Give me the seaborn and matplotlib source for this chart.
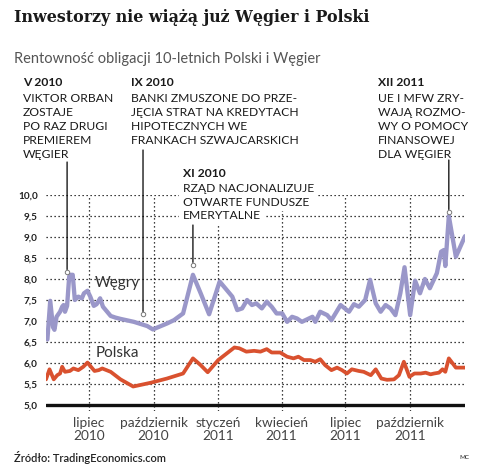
import pandas as pd
import matplotlib
matplotlib.use('Agg')
import matplotlib.pyplot as plt
import matplotlib.dates as mdates
import seaborn as sns

# Hungary 10y yields
hu_dates = ['2010-05-03', '2010-05-07', '2010-05-11', '2010-05-13', '2010-05-16', '2010-05-21',
            '2010-05-24', '2010-05-26', '2010-05-28', '2010-05-31', '2010-06-03', '2010-06-05',
            '2010-06-08', '2010-06-11', '2010-06-16', '2010-06-21', '2010-06-24', '2010-06-29',
            '2010-07-03', '2010-07-08', '2010-07-12', '2010-07-17', '2010-07-21', '2010-07-27',
            '2010-08-01', '2010-08-08', '2010-08-15', '2010-09-03', '2010-09-22', '2010-09-30',
            '2010-10-20', '2010-10-30', '2010-11-12', '2010-11-26', '2010-12-07', '2010-12-19',
            '2011-01-03', '2011-01-21', '2011-01-28', '2011-02-04', '2011-02-11', '2011-02-18',
            '2011-02-24', '2011-03-04', '2011-03-11', '2011-03-18', '2011-03-25', '2011-04-02',
            '2011-04-09', '2011-04-16', '2011-04-23', '2011-04-30', '2011-05-15', '2011-05-19',
            '2011-05-26', '2011-06-05', '2011-06-11', '2011-06-24', '2011-07-06', '2011-07-13',
            '2011-07-20', '2011-07-29', '2011-08-05', '2011-08-13', '2011-08-20', '2011-08-27',
            '2011-09-03', '2011-09-10', '2011-09-17', '2011-09-23', '2011-10-01', '2011-10-08',
            '2011-10-15', '2011-10-22', '2011-10-29', '2011-11-08', '2011-11-14', '2011-11-18',
            '2011-11-20', '2011-11-25', '2011-12-05', '2011-12-18']
hu_values = [6.56, 7.48, 6.85, 6.79, 7.10, 7.22, 7.34, 7.38, 7.22, 7.36, 8.06, 8.10,
             8.10, 7.50, 7.58, 7.54, 7.66, 7.72, 7.58, 7.36, 7.40, 7.54, 7.34, 7.22,
             7.12, 7.08, 7.05, 6.98, 6.88, 6.80, 6.94, 7.02, 7.18, 8.10, 7.66, 7.16,
             7.94, 7.58, 7.26, 7.30, 7.50, 7.38, 7.42, 7.30, 7.46, 7.34, 7.18, 7.18,
             6.98, 7.10, 7.06, 6.98, 7.10, 6.98, 7.22, 7.14, 7.02, 7.38, 7.22, 7.40,
             7.34, 7.50, 7.98, 7.42, 7.22, 7.38, 7.30, 7.14, 7.66, 8.28, 7.14, 7.96,
             7.66, 8.00, 7.78, 8.14, 8.65, 8.69, 8.31, 9.50, 8.53, 9.02]

# Poland 10y yields
pl_dates = ['2010-05-01', '2010-05-06', '2010-05-12', '2010-05-17', '2010-05-21', '2010-05-24',
            '2010-05-28', '2010-06-04', '2010-06-09', '2010-06-16', '2010-06-23', '2010-06-29',
            '2010-07-09', '2010-07-15', '2010-07-20', '2010-07-26', '2010-08-01', '2010-08-15',
            '2010-09-02', '2010-09-27', '2010-10-20', '2010-11-12', '2010-11-26', '2010-12-07',
            '2010-12-17', '2011-01-01', '2011-01-24', '2011-01-31', '2011-02-10', '2011-02-21',
            '2011-03-02', '2011-03-11', '2011-03-18', '2011-03-30', '2011-04-09', '2011-04-18',
            '2011-04-25', '2011-05-03', '2011-05-12', '2011-05-19', '2011-05-26', '2011-06-02',
            '2011-06-11', '2011-06-19', '2011-06-26', '2011-07-03', '2011-07-10', '2011-07-20',
            '2011-07-27', '2011-08-06', '2011-08-13', '2011-08-21', '2011-08-29', '2011-09-08',
            '2011-09-15', '2011-09-22', '2011-09-30', '2011-10-07', '2011-10-16', '2011-10-23',
            '2011-10-30', '2011-11-04', '2011-11-11', '2011-11-16', '2011-11-20', '2011-11-25',
            '2011-12-05', '2011-12-18']
pl_values = [5.61, 5.85, 5.61, 5.71, 5.75, 5.91, 5.79, 5.81, 5.87, 5.83, 5.91, 6.01,
             5.81, 5.83, 5.87, 5.83, 5.79, 5.61, 5.44, 5.53, 5.63, 5.75, 6.11, 5.95,
             5.78, 6.07, 6.37, 6.35, 6.27, 6.29, 6.27, 6.33, 6.25, 6.25, 6.15, 6.11,
             6.15, 6.07, 6.07, 6.03, 6.09, 5.95, 5.83, 5.89, 5.83, 5.75, 5.85, 5.81,
             5.79, 5.71, 5.85, 5.63, 5.60, 5.61, 5.71, 6.03, 5.67, 5.75, 5.75, 5.77,
             5.73, 5.75, 5.77, 5.85, 5.79, 6.11, 5.89, 5.89]

tick_dates = ['2010-07-01', '2010-10-01', '2011-01-01', '2011-04-01', '2011-07-01', '2011-10-01']
tick_labels = ['lipiec\n2010', 'październik\n2010', 'styczeń\n2011', 'kwiecień\n2011',
               'lipiec\n2011', 'październik\n2011']
y_ticks = [5.0, 5.5, 6.0, 6.5, 7.0, 7.5, 8.0, 8.5, 9.0, 9.5, 10.0]

# events: date, yield at marker, top of leader line (px from top)
event_dates = ['2010-05-31', '2010-09-16', '2010-11-26', '2011-11-25']
event_values = [8.16, 7.16, 8.33, 9.59]
event_tops = [162, 150, 225, 160]

W, H = 482, 469
HU_COLOR = '#9a97c9'
PL_COLOR = '#d9512f'

sns.set_style('white')
plt.rcParams['font.family'] = ['Lato', 'DejaVu Sans']

fig = plt.figure(figsize=(W / 100, H / 100), dpi=100)
# axes: y 4.85..10.0 -> px 411..195, x px 46..465
ax = fig.add_axes([46 / W, (H - 411.3) / H, 419 / W, (411.3 - 195) / H])

hu = pd.DataFrame({'date': pd.to_datetime(hu_dates), 'value': hu_values})
pl = pd.DataFrame({'date': pd.to_datetime(pl_dates), 'value': pl_values})

sns.lineplot(data=hu, x='date', y='value', color=HU_COLOR, lw=3.1, ax=ax, zorder=3)
sns.lineplot(data=pl, x='date', y='value', color=PL_COLOR, lw=2.7, ax=ax, zorder=3)

ax.set_xlim(min(pl['date'].min(), hu['date'].min()), max(pl['date'].max(), hu['date'].max()))
ax.set_ylim(4.85, 10.0)
ax.set_xlabel('')
ax.set_ylabel('')

# dotted grid
for v in y_ticks[1:]:
    ax.axhline(v, color='black', lw=0.9, ls=(0, (1, 2.2)), zorder=1)
for d in tick_dates:
    ax.axvline(pd.Timestamp(d), color='black', lw=0.9, ls=(0, (1, 2.2)), zorder=1)
ax.axhline(5.0, color='#111111', lw=2.4, zorder=4)

for s in ax.spines.values():
    s.set_visible(False)
ax.set_yticks(y_ticks)
ax.set_yticklabels([f'{v:.1f}'.replace('.', ',') for v in y_ticks], fontsize=7.2,
                   color='#222222', fontweight='bold')
ax.set_xticks(pd.to_datetime(tick_dates))
ax.set_xticklabels(tick_labels, fontsize=9.8, color='#444444', linespacing=1.1)
ax.tick_params(axis='both', length=0, pad=6)
ax.tick_params(axis='x', pad=4)

# series labels
ax.text(pd.Timestamp('2010-07-10'), 7.90, 'Węgry', fontsize=11, color='#333333', va='center')
ax.text(pd.Timestamp('2010-07-10'), 6.24, 'Polska', fontsize=11, color='#333333', va='center')

# leader lines with small circles
for d, v, top in zip(event_dates, event_values, event_tops):
    xd = mdates.date2num(pd.Timestamp(d))
    ax.annotate('', xy=(xd, v), xytext=(xd, 1 - top / H),
                textcoords=('data', 'figure fraction'), annotation_clip=False,
                arrowprops=dict(arrowstyle='-', lw=0.9, color='black', shrinkA=0, shrinkB=2))
    ax.plot([xd], [v], marker='o', ms=3.2, mfc='white', mec='#777777', mew=0.7,
            zorder=5, clip_on=False)


def ftext(x, y, s, **kw):
    fig.text(x / W, 1 - y / H, s, va='center', **kw)


ftext(14, 17, 'Inwestorzy nie wiążą już Węgier i Polski', fontsize=11.4, fontweight='bold',
      family=['DejaVu Serif'], color='#1a1a1a')
ftext(14, 59, 'Rentowność obligacji 10-letnich Polski i Węgier', fontsize=10.5, color='#555555')

ann_kw = dict(fontsize=8.7, color='#1a1a1a')
rows = [98, 112, 126, 140, 154]
ftext(23, 83, 'V 2010', fontweight='bold', **ann_kw)
for y, s in zip(rows, ['VIKTOR ORBAN', 'ZOSTAJE', 'PO RAZ DRUGI', 'PREMIEREM', 'WĘGIER']):
    ftext(23, y, s, **ann_kw)
ftext(131, 83, 'IX 2010', fontweight='bold', **ann_kw)
for y, s in zip(rows, ['BANKI ZMUSZONE DO PRZE-', 'JĘCIA STRAT NA KREDYTACH',
                       'HIPOTECZNYCH WE', 'FRANKACH SZWAJCARSKICH']):
    ftext(131, y, s, **ann_kw)
ftext(378, 83, 'XII 2011', fontweight='bold', **ann_kw)
for y, s in zip(rows, ['UE I MFW ZRY-', 'WAJĄ ROZMO-', 'WY O POMOCY', 'FINANSOWEJ',
                       'DLA WĘGIER']):
    ftext(378, y, s, **ann_kw)

# XI 2010 block sits over the grid: white backing first, then the text
xi_rows = [173, 188, 202, 215]
xi_lines = ['XI 2010', 'RZĄD NACJONALIZUJE', 'OTWARTE FUNDUSZE', 'EMERYTALNE']
for i, (y, s) in enumerate(zip(xi_rows, xi_lines)):
    w = 'bold' if i == 0 else 'normal'
    ftext(183, y, s, fontweight=w, alpha=0, zorder=2,
          bbox=dict(facecolor='white', edgecolor='none', pad=2.6), **ann_kw)
    ftext(183, y, s, fontweight=w, zorder=3, **ann_kw)

ftext(14, 457, 'Źródło: TradingEconomics.com', fontsize=8, color='#222222', fontweight='semibold')
ftext(459, 457, 'MC', fontsize=4.5, color='#222222')

fig.savefig('out.png', dpi=100)
plt.close(fig)
